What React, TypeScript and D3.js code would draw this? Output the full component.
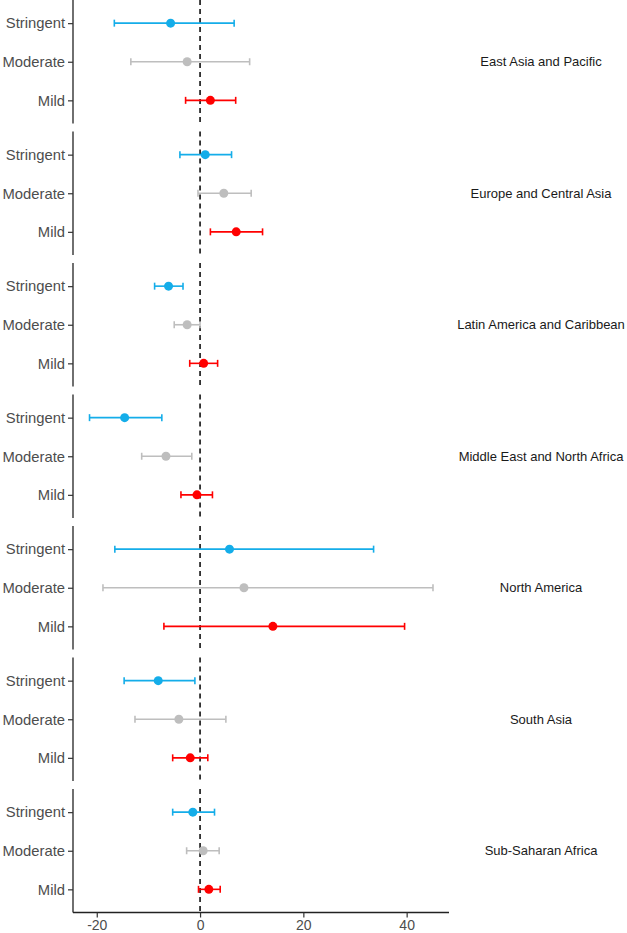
import { useEffect, useRef } from "react"
import * as d3 from "d3"

const regions = [
  "East Asia and Pacific",
  "Europe and Central Asia",
  "Latin America and Caribbean",
  "Middle East and North Africa",
  "North America",
  "South Asia",
  "Sub-Saharan Africa",
]
const levels = ["Stringent", "Moderate", "Mild"]
const levelColors = ["#14ade9", "#bebebe", "#ff0000"]

// per region: [Stringent, Moderate, Mild]
const estimates = [
  [-5.7, -2.5, 2.0],
  [1.0, 4.6, 7.0],
  [-6.1, -2.5, 0.7],
  [-14.6, -6.6, -0.6],
  [5.7, 8.5, 14.1],
  [-8.1, -4.1, -1.9],
  [-1.4, 0.6, 1.7],
]
const lower = [
  [-16.6, -13.4, -2.8],
  [-3.9, -0.4, 2.0],
  [-8.8, -5.0, -2.0],
  [-21.4, -11.3, -3.7],
  [-16.5, -18.8, -7.0],
  [-14.7, -12.6, -5.3],
  [-5.3, -2.6, -0.3],
]
const upper = [
  [6.6, 9.6, 6.9],
  [6.1, 9.9, 12.1],
  [-3.3, 0.0, 3.4],
  [-7.4, -1.6, 2.4],
  [33.6, 45.1, 39.6],
  [-1.0, 5.0, 1.5],
  [2.8, 3.7, 3.9],
]
const xTicks = [-20, 0, 20, 40]

export default function App() {
  const svgRef = useRef<SVGSVGElement>(null)

  useEffect(() => {
    if (!svgRef.current) return
    const width = 627
    const height = 933
    const svg = d3.select(svgRef.current)
    svg.selectAll("*").remove()
    svg.attr("width", width).attr("height", height)

    const font = "Liberation Sans, Arial, sans-serif"
    const left = 73
    const right = 449
    const panelH = 123.5
    const pitch = 131.5

    const x = d3.scaleLinear().domain([-24.6, 48.2]).range([left, right])
    const y = d3.scalePoint().domain(levels).range([0, panelH]).padding(0.6)

    regions.forEach((region, i) => {
      const g = svg.append("g").attr("transform", `translate(0,${i * pitch})`)

      // zero reference line
      g.append("line")
        .attr("x1", x(0))
        .attr("x2", x(0))
        .attr("y1", 0)
        .attr("y2", panelH)
        .attr("stroke", "#000")
        .attr("stroke-width", 1.5)
        .attr("stroke-dasharray", "5,4")

      // y axis
      const yAxis = d3.axisLeft(y).tickSize(5).tickPadding(3)
      const ay = g.append("g").attr("transform", `translate(${left},0)`).call(yAxis)
      ay.select(".domain").attr("stroke", "#222").attr("stroke-width", 1.3).attr("d", `M0,0V${panelH}`)
      ay.selectAll(".tick line").attr("stroke", "#333").attr("stroke-width", 1.2)
      ay.selectAll("text")
        .attr("fill", "#4d4d4d")
        .attr("font-size", 14.8)
        .attr("font-family", font)

      const rows = levels.map((lv, j) => ({
        lv,
        est: estimates[i][j],
        lo: lower[i][j],
        hi: upper[i][j],
        color: levelColors[j],
      }))

      const bars = g.selectAll("g.bar").data(rows).enter().append("g").attr("class", "bar")
      bars
        .append("line")
        .attr("x1", (d) => x(d.lo))
        .attr("x2", (d) => x(d.hi))
        .attr("y1", (d) => y(d.lv)!)
        .attr("y2", (d) => y(d.lv)!)
        .attr("stroke", (d) => d.color)
        .attr("stroke-width", 1.6)
      ;["lo", "hi"].forEach((k) => {
        bars
          .append("line")
          .attr("x1", (d: any) => x(d[k]))
          .attr("x2", (d: any) => x(d[k]))
          .attr("y1", (d) => y(d.lv)! - 3.5)
          .attr("y2", (d) => y(d.lv)! + 3.5)
          .attr("stroke", (d) => d.color)
          .attr("stroke-width", 1.6)
      })
      bars
        .append("circle")
        .attr("cx", (d) => x(d.est))
        .attr("cy", (d) => y(d.lv)!)
        .attr("r", 4.5)
        .attr("fill", (d) => d.color)

      // facet label
      g.append("text")
        .attr("x", 541)
        .attr("y", panelH / 2)
        .attr("dy", "0.35em")
        .attr("text-anchor", "middle")
        .attr("fill", "#1a1a1a")
        .attr("font-size", 13)
        .attr("font-family", font)
        .text(region)
    })

    // x axis at the bottom
    const xAxis = d3
      .axisBottom(x)
      .tickValues(xTicks)
      .tickSize(5)
      .tickPadding(3)
      .tickFormat((d) => String(d))
    const bottom = (regions.length - 1) * pitch + panelH
    const ax = svg.append("g").attr("transform", `translate(0,${bottom})`).call(xAxis)
    ax.select(".domain").attr("stroke", "#222").attr("stroke-width", 1.3).attr("d", `M${left},0H${right}`)
    ax.selectAll(".tick line").attr("stroke", "#333").attr("stroke-width", 1.2)
    ax.selectAll("text")
      .attr("fill", "#4d4d4d")
      .attr("font-size", 14)
      .attr("font-family", font)
  }, [])

  return <svg ref={svgRef} style={{ position: "absolute", left: 0, top: 0, background: "#fff" }} />
}
